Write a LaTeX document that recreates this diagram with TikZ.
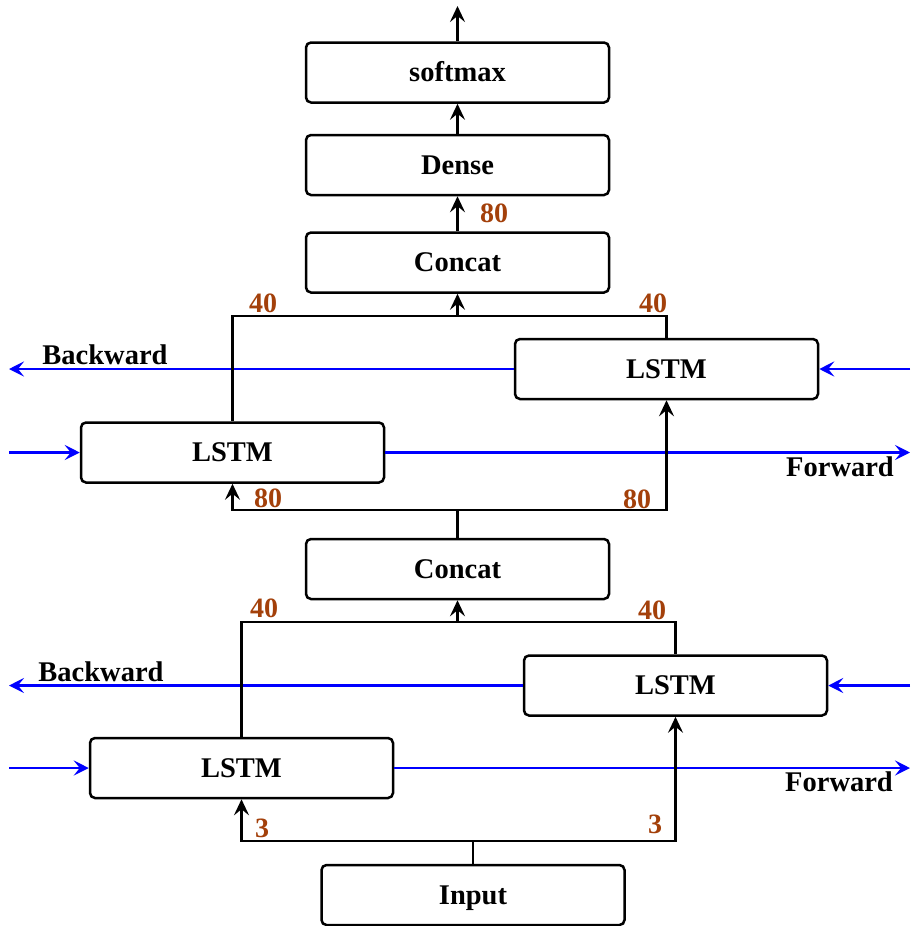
\documentclass[tikz,border=0pt]{standalone}
\usepackage{fontspec}
\setmainfont{Liberation Serif}
\usetikzlibrary{arrows.meta}
\definecolor{dimcol}{RGB}{163,64,10}
\tikzset{
  layer/.style={draw=black, line width=2.5pt, rounded corners=5pt,
    minimum width=303pt, minimum height=60pt, inner sep=0pt,
    font=\fontsize{28.5}{34}\selectfont\bfseries,
    text height=18.9pt, text depth=0pt},
  link/.style={draw=black, line width=2.4pt},
  arr/.style={link, -{Stealth[length=16pt, width=15pt, inset=6pt]}},
  flow/.style={draw=blue, line width=2.4pt, -{Stealth[length=15pt, width=15pt, inset=6pt]}},
  dim/.style={text=dimcol, inner sep=0pt, font=\fontsize{28}{32}\selectfont\bfseries},
  dirlabel/.style={inner sep=0pt, font=\fontsize{28.5}{34}\selectfont\bfseries}
}
\begin{document}
\begin{tikzpicture}[x=1pt, y=-1pt]
\useasboundingbox (0,0) rectangle (910,926);

% output head
\node[layer] (soft) at (457.5,72.5) {softmax};
\node[layer] (dense) at (457.5,165) {Dense};
\node[layer] (catB) at (457.5,262.5) {Concat};

% second bidirectional layer
\node[layer] (bwB) at (666.5,369) {LSTM};
\node[layer] (fwB) at (232.5,452.5) {LSTM};

% first bidirectional layer
\node[layer] (catA) at (457.5,569) {Concat};
\node[layer] (bwA) at (675.5,685.5) {LSTM};
\node[layer] (fwA) at (241.5,768) {LSTM};
\node[layer] (inp) at (473,895) {Input};

% free ends and junctions
\coordinate (out) at (457.5,6);
\coordinate (joinB) at (457.5,316);
\coordinate (splitB) at (457.5,510);
\coordinate (joinA) at (457.5,622);
\coordinate (splitA) at (473,841);
\coordinate (bwBend) at (9,369);
\coordinate (bwBin) at (910,369);
\coordinate (fwBin) at (9,452.5);
\coordinate (fwBend) at (910,452.5);
\coordinate (bwAend) at (9,685.5);
\coordinate (bwAin) at (910,685.5);
\coordinate (fwAin) at (9,768);
\coordinate (fwAend) at (910,768);

% recurrent directions
\draw[flow] (bwB.west) -- (bwBend);
\draw[flow] (bwBin) -- (bwB.east);
\draw[flow] (fwBin) -- (fwB.west);
\draw[flow] (fwB.east) -- (fwBend);
\draw[flow] (bwA.west) -- (bwAend);
\draw[flow] (bwAin) -- (bwA.east);
\draw[flow] (fwAin) -- (fwA.west);
\draw[flow] (fwA.east) -- (fwAend);

% head connections
\draw[arr] (soft.north) -- (out);
\draw[arr] (dense.north) -- (soft.south);
\draw[arr] (catB.north) -- (dense.south);

% second layer merge and split
\draw[link] (fwB.north) -- (fwB.north |- joinB) -- (bwB.north |- joinB) -- (bwB.north);
\draw[arr] (joinB) -- (catB.south);
\draw[link] (catA.north) -- (splitB);
\draw[arr] (splitB) -| (fwB.south);
\draw[arr] (splitB) -| (bwB.south);

% first layer merge and split
\draw[link] (fwA.north) -- (fwA.north |- joinA) -- (bwA.north |- joinA) -- (bwA.north);
\draw[arr] (joinA) -- (catA.south);
\draw[link] (inp.north) -- (splitA);
\draw[arr] (splitA) -| (fwA.south);
\draw[arr] (splitA) -| (bwA.south);

% direction labels
\node[dirlabel] (bwBtxt) at (105,355) {Backward};
\node[dirlabel] (fwBtxt) at (840,467) {Forward};
\node[dirlabel] (bwAtxt) at (101,672) {Backward};
\node[dirlabel] (fwAtxt) at (839,782) {Forward};

% feature sizes
\node[dim] (d80top) at (494,213) {80};
\node[dim] (d40BL) at (263,303) {40};
\node[dim] (d40BR) at (653,303) {40};
\node[dim] (d80BL) at (268,498) {80};
\node[dim] (d80BR) at (637,499) {80};
\node[dim] (d40AL) at (264,608) {40};
\node[dim] (d40AR) at (652,610) {40};
\node[dim] (d3L) at (262,828) {3};
\node[dim] (d3R) at (655,824) {3};
\end{tikzpicture}
\end{document}
